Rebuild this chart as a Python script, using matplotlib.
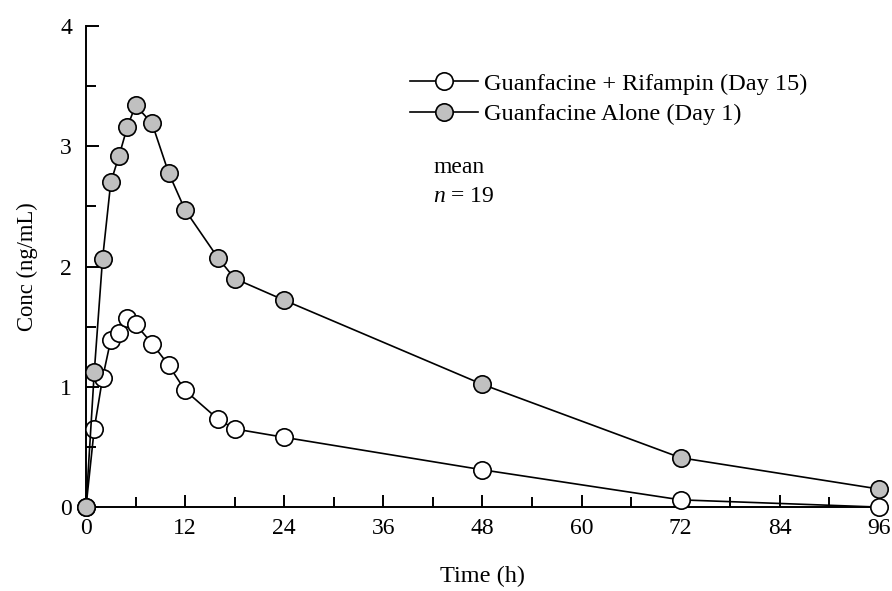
import matplotlib.pyplot as plt
from matplotlib.ticker import MultipleLocator

plt.rcParams['font.family'] = ['Liberation Serif', 'DejaVu Serif']
plt.rcParams['mathtext.fontset'] = 'custom'
plt.rcParams['mathtext.it'] = 'Liberation Serif:italic'
plt.rcParams['mathtext.rm'] = 'Liberation Serif'

# sampling times (h)
hours = [0, 1, 2, 3, 4, 5, 6, 8, 10, 12, 16, 18, 24, 48, 72, 96]

# mean guanfacine concentrations (ng/mL)
conc_rifampin = [0, 0.65, 1.07, 1.39, 1.45, 1.57, 1.52, 1.36, 1.18, 0.97,
                 0.73, 0.65, 0.58, 0.31, 0.06, 0.0]
conc_alone = [0, 1.12, 2.06, 2.70, 2.92, 3.16, 3.34, 3.19, 2.78, 2.47,
              2.07, 1.90, 1.72, 1.02, 0.41, 0.15]

fig = plt.figure(figsize=(8.92, 5.91), dpi=100)
ax = fig.add_axes([0.0964, 0.142, 0.889, 0.814])

ax.plot(hours, conc_rifampin, '-o', color='black', lw=1.2, ms=12.5,
        mfc='white', mec='black', mew=1.2, clip_on=False, zorder=3,
        label='Guanfacine + Rifampin (Day 15)')
ax.plot(hours, conc_alone, '-o', color='black', lw=1.2, ms=12.5,
        mfc='#c0c0c0', mec='black', mew=1.2, clip_on=False, zorder=4,
        label='Guanfacine Alone (Day 1)')

ax.set_xlim(0, 96)
ax.set_ylim(0, 4)
ax.xaxis.set_major_locator(MultipleLocator(12))
ax.xaxis.set_minor_locator(MultipleLocator(6))
ax.yaxis.set_major_locator(MultipleLocator(1))
ax.yaxis.set_minor_locator(MultipleLocator(0.5))
ax.tick_params(which='both', direction='in', width=1.4, labelsize=17)
ax.tick_params(which='major', length=9)
ax.tick_params(which='minor', length=7)
ax.tick_params(axis='x', pad=8)
ax.tick_params(axis='y', pad=10)

for side in ['top', 'right']:
    ax.spines[side].set_visible(False)
for side in ['left', 'bottom']:
    ax.spines[side].set_linewidth(1.4)

ax.set_xlabel('Time (h)', fontsize=17.5, labelpad=19)
ax.set_ylabel('Conc (ng/mL)', fontsize=16.3, labelpad=16)

ax.legend(loc='upper left', bbox_to_anchor=(0.4086, 0.9025), frameon=False,
          borderpad=0, borderaxespad=0,
          fontsize=17.5, handlelength=2.8, handletextpad=0.25,
          labelspacing=0.35)

ax.text(0.4376, 0.705, 'mean', transform=ax.transAxes, fontsize=17,
        ha='left', va='center')
ax.text(0.4376, 0.645, r'$n$ = 19', transform=ax.transAxes, fontsize=17,
        ha='left', va='center')

fig.savefig('out.png', dpi=100)
